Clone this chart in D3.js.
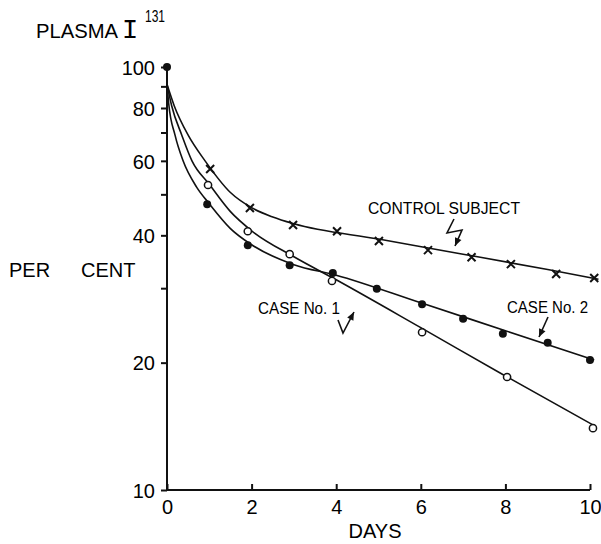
<!DOCTYPE html>
<html><head><meta charset="utf-8">
<script src="https://cdn.jsdelivr.net/npm/d3@7/dist/d3.min.js"></script>
<style>
body{margin:0;background:#fff;}
text{font-family:"Liberation Sans","DejaVu Sans",sans-serif;fill:#000;}
</style></head>
<body><svg id="c" width="601" height="544"></svg>
<script>
// ---- data ----
const xTicks = [0, 2, 4, 6, 8, 10];
const yTickLabels = [100, 80, 60, 40, 20, 10];
const yMinorTicks = [90, 70, 50, 30];

const controlDays   = [1.02, 1.96, 2.98, 4.02, 5.01, 6.17, 7.2, 8.13, 9.2, 10.1];
const controlValues = [57.4, 46.4, 42.3, 40.9, 38.8, 36.9, 35.5, 34.2, 32.4, 31.7];

const case1Days   = [0.97, 1.91, 2.9, 3.9, 6.03, 8.04, 10.07];
const case1Values = [52.6, 40.9, 36.1, 31.2, 23.6, 18.5, 14.0];

const case2Days   = [0, 0.95, 1.91, 2.9, 3.92, 4.96, 6.03, 7.0, 7.94, 9.0, 10.0];
const case2Values = [100, 47.4, 37.9, 34.0, 32.6, 29.9, 27.5, 25.4, 23.4, 22.3, 20.3];

// fitted curves as drawn by hand
const controlFitDays   = [0, 0.17, 0.5, 0.9, 1.5, 2, 2.5, 3, 5, 7, 9, 10.2];
const controlFitValues = [91, 81, 69, 60, 50.5, 46.5, 44.2, 42.6, 39.2, 36.1, 33.2, 31.5];
const case1FitDays   = [0, 0.11, 0.35, 0.59, 1, 1.5, 2, 3, 4, 6, 8, 10.1];
const case1FitValues = [91, 81, 69, 60, 52.8, 45.5, 41.0, 35.6, 31.4, 24.2, 18.6, 14.2];
const case2FitDays   = [0, 0.04, 0.19, 0.38, 0.7, 1, 1.5, 2, 3, 4, 6, 8, 10.1];
const case2FitValues = [91, 82, 69, 60, 52, 47.5, 41.5, 38.0, 34.1, 32.2, 27.7, 23.8, 20.3];

// ---- chart ----
const svg = d3.select("#c");
const x = d3.scaleLinear().domain([0, 10]).range([167, 590]);
const y = d3.scaleLog().domain([10, 100]).range([490, 67]);
const ink = "#111";

// axes
const yAxis = d3.axisLeft(y).tickValues(yTickLabels.concat(yMinorTicks))
  .tickSize(6).tickFormat(d => yTickLabels.includes(d) ? d : "");
const gy = svg.append("g").attr("transform", `translate(${x(0)},0)`).call(yAxis);
gy.select(".domain").attr("d", `M0,${y(100)-2}V${y(10)}`);
gy.selectAll("path,line").attr("stroke", ink).attr("stroke-width", 2);
gy.selectAll("text").attr("font-size", 20).attr("x", -12).attr("dy", "0.36em");

const xAxis = d3.axisBottom(x).tickValues(xTicks).tickSize(-6).tickSizeOuter(0);
const gx = svg.append("g").attr("transform", `translate(0,${y(10)})`).call(xAxis);
gx.select(".domain").attr("d", `M${x(0)},0H${x(10)}`);
gx.selectAll("path,line").attr("stroke", ink).attr("stroke-width", 2);
gx.selectAll("text").attr("font-size", 20).attr("y", 10).attr("dy", "0.71em");

// titles
svg.append("text").attr("x", 36).attr("y", 38).attr("font-size", 21)
  .attr("textLength", 82).attr("lengthAdjust", "spacingAndGlyphs").text("PLASMA");
svg.append("text").attr("x", 122).attr("y", 38).attr("font-size", 27)
  .style("font-family", "'Liberation Mono',monospace").text("I");
svg.append("text").attr("x", 145).attr("y", 22).attr("font-size", 16)
  .attr("textLength", 20).attr("lengthAdjust", "spacingAndGlyphs").text("131");
svg.append("text").attr("x", 9).attr("y", 277).attr("font-size", 20).text("PER");
svg.append("text").attr("x", 81).attr("y", 277).attr("font-size", 20).text("CENT");
svg.append("text").attr("x", 375).attr("y", 538).attr("font-size", 20)
  .attr("text-anchor", "middle").text("DAYS");

// curves
const line = d3.line().x(d => x(d[0])).y(d => y(d[1])).curve(d3.curveMonotoneX);
function drawFit(days, vals) {
  svg.append("path").datum(d3.zip(days, vals)).attr("d", line)
    .attr("fill", "none").attr("stroke", ink).attr("stroke-width", 1.6);
}
drawFit(controlFitDays, controlFitValues);
drawFit(case1FitDays, case1FitValues);
drawFit(case2FitDays, case2FitValues);

// markers
svg.append("g").selectAll("circle").data(d3.zip(case2Days, case2Values)).join("circle")
  .attr("cx", d => x(d[0])).attr("cy", d => y(d[1])).attr("r", 4).attr("fill", ink);
svg.append("g").selectAll("circle").data(d3.zip(case1Days, case1Values)).join("circle")
  .attr("cx", d => x(d[0])).attr("cy", d => y(d[1])).attr("r", 3.6)
  .attr("fill", "#fff").attr("stroke", ink).attr("stroke-width", 1.5);
svg.append("g").selectAll("path").data(d3.zip(controlDays, controlValues)).join("path")
  .attr("d", d => { const cx = x(d[0]), cy = y(d[1]), s = 4;
    return `M${cx-s},${cy-s}L${cx+s},${cy+s}M${cx+s},${cy-s}L${cx-s},${cy+s}`; })
  .attr("stroke", ink).attr("stroke-width", 2);

// annotations
svg.append("text").attr("x", 368).attr("y", 214).attr("font-size", 16)
  .attr("textLength", 152).attr("lengthAdjust", "spacingAndGlyphs").text("CONTROL SUBJECT");
svg.append("text").attr("x", 258).attr("y", 314).attr("font-size", 16)
  .attr("textLength", 82).attr("lengthAdjust", "spacingAndGlyphs").text("CASE No. 1");
svg.append("text").attr("x", 507).attr("y", 313).attr("font-size", 16)
  .attr("textLength", 81).attr("lengthAdjust", "spacingAndGlyphs").text("CASE No. 2");

function arrow(pts) {
  svg.append("path").attr("d", d3.line()(pts)).attr("fill", "none")
    .attr("stroke", ink).attr("stroke-width", 1.6);
  const [a, b] = [pts[pts.length - 2], pts[pts.length - 1]];
  const ang = Math.atan2(b[1] - a[1], b[0] - a[0]);
  const L = 8, W = 3.5;
  const p1 = [b[0] - L*Math.cos(ang) + W*Math.sin(ang), b[1] - L*Math.sin(ang) - W*Math.cos(ang)];
  const p2 = [b[0] - L*Math.cos(ang) - W*Math.sin(ang), b[1] - L*Math.sin(ang) + W*Math.cos(ang)];
  svg.append("path").attr("d", `M${b[0]},${b[1]}L${p1[0]},${p1[1]}L${p2[0]},${p2[1]}Z`).attr("fill", ink);
}
arrow([[454, 219], [447, 233], [462, 230], [455, 246]]);
arrow([[548, 317], [539, 337]]);
arrow([[338, 320], [343, 333], [354, 312]]);
</script></body></html>
